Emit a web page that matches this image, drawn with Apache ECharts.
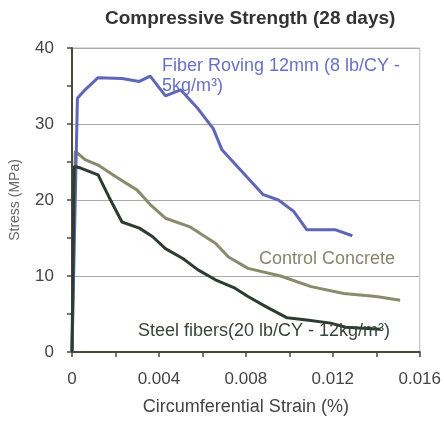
<!DOCTYPE html>
<html>
<head>
<meta charset="utf-8">
<script src="https://cdn.jsdelivr.net/npm/echarts@6/dist/echarts.min.js"></script>
<style>html,body{margin:0;padding:0;background:#fff}#c{width:444px;height:421px}</style>
</head>
<body>
<div id="c"></div>
<script>
var titleText = 'Compressive Strength (28 days)';
var xName = 'Circumferential Strain (%)';
var yName = 'Stress (MPa)';

var fiberStrain = [0, 0.00025, 0.0006, 0.0012, 0.0023, 0.0031, 0.0036, 0.0043, 0.005, 0.0058, 0.0065, 0.0069, 0.0088, 0.0095, 0.0102, 0.0108, 0.0121, 0.0129];
var fiberStress = [0, 33.4, 34.5, 36.1, 36.0, 35.6, 36.3, 33.7, 34.5, 32.0, 29.4, 26.6, 20.7, 20.0, 18.5, 16.1, 16.1, 15.3];

var controlStrain = [0, 0.00015, 0.0004, 0.0006, 0.0012, 0.002, 0.003, 0.0036, 0.0043, 0.0054, 0.0066, 0.0072, 0.0081, 0.0096, 0.011, 0.0125, 0.014, 0.0151];
var controlStress = [0, 26.4, 25.8, 25.3, 24.6, 23.1, 21.3, 19.4, 17.6, 16.5, 14.3, 12.5, 11.0, 10.0, 8.6, 7.7, 7.3, 6.8];

var steelStrain = [0, 0.0001, 0.0004, 0.0012, 0.0017, 0.0023, 0.0031, 0.0037, 0.0043, 0.0051, 0.0058, 0.0066, 0.0075, 0.0081, 0.0089, 0.0099, 0.0108, 0.0119, 0.0126, 0.0142];
var steelStress = [0, 24.4, 24.2, 23.3, 20.4, 17.1, 16.3, 15.2, 13.6, 12.3, 10.8, 9.5, 8.4, 7.3, 6.0, 4.5, 4.2, 3.8, 3.25, 3.0];

var xTicks = ['0', '0.004', '0.008', '0.012', '0.016'];
var yTicks = ['0', '10', '20', '30', '40'];

var fiberLabel1 = 'Fiber Roving 12mm (8 lb/CY -';
var fiberLabel2 = '5kg/m³)';
var controlLabel = 'Control Concrete';
var steelLabel = 'Steel fibers(20 lb/CY - 12kg/m³)';

function pairs(xs, ys) { return xs.map(function (x, i) { return [x, ys[i]]; }); }

var chart = echarts.init(document.getElementById('c'));
var font = 'Liberation Sans, Arial, sans-serif';
chart.setOption({
  animation: false,
  backgroundColor: '#fff',
  title: {
    text: titleText, left: 100, top: 4,
    textStyle: { fontFamily: font, fontSize: 19, fontWeight: 'bold', color: '#333' }
  },
  grid: { left: 72, right: 20, top: 48, bottom: 69, show: true, borderColor: '#bbb', borderWidth: 1 },
  xAxis: {
    type: 'value', min: 0, max: 0.016, interval: 0.004,
    name: xName, nameLocation: 'middle', nameGap: 46,
    nameTextStyle: { fontFamily: font, fontSize: 18, color: '#444' },
    axisLine: { lineStyle: { color: '#4a4a3c', width: 2 } },
    axisTick: { show: true, length: 5, lineStyle: { color: '#4a4a3c', width: 1.5 } },
    minorTick: { show: true, splitNumber: 2, length: 5, lineStyle: { color: '#4a4a3c', width: 1.5 } },
    axisLabel: { fontFamily: font, fontSize: 17, color: '#444', margin: 19,
      formatter: function (v) { return xTicks[Math.round(v / 0.004)]; } },
    splitLine: { show: false }
  },
  yAxis: {
    type: 'value', min: 0, max: 40, interval: 10,
    name: yName, nameLocation: 'middle', nameGap: 50, nameRotate: 90,
    nameTextStyle: { fontFamily: font, fontSize: 14, color: '#666' },
    axisLine: { show: true, lineStyle: { color: '#4a4a3c', width: 2 } },
    axisTick: { show: true, length: 5, lineStyle: { color: '#4a4a3c', width: 1.5 } },
    minorTick: { show: true, splitNumber: 2, length: 5, lineStyle: { color: '#4a4a3c', width: 1.5 } },
    axisLabel: { fontFamily: font, fontSize: 17, color: '#444', margin: 18,
      formatter: function (v) { return yTicks[Math.round(v / 10)]; } },
    splitLine: { show: true, lineStyle: { color: '#aaa', width: 1 } }
  },
  series: [
    { type: 'line', data: pairs(fiberStrain, fiberStress), showSymbol: false, symbol: 'none',
      lineStyle: { color: '#5f66b8', width: 3 }, z: 3 },
    { type: 'line', data: pairs(controlStrain, controlStress), showSymbol: false, symbol: 'none',
      lineStyle: { color: '#8a8a6c', width: 3 }, z: 2 },
    { type: 'line', data: pairs(steelStrain, steelStress), showSymbol: false, symbol: 'none',
      lineStyle: { color: '#2c3c30', width: 3 }, z: 4 }
  ],
  graphic: [
    { type: 'text', left: 162, top: 57, z: 10, style: { text: fiberLabel1, fontFamily: font, fontSize: 18, fill: '#6a70c4' } },
    { type: 'text', left: 162, top: 77, z: 10, style: { text: fiberLabel2, fontFamily: font, fontSize: 18, fill: '#6a70c4' } },
    { type: 'text', left: 259, top: 250, z: 10, style: { text: controlLabel, fontFamily: font, fontSize: 18, fill: '#86866c' } },
    { type: 'text', left: 138, top: 322, z: 10, style: { text: steelLabel, fontFamily: font, fontSize: 18, fill: '#35453a' } }
  ]
});
</script>
</body>
</html>
